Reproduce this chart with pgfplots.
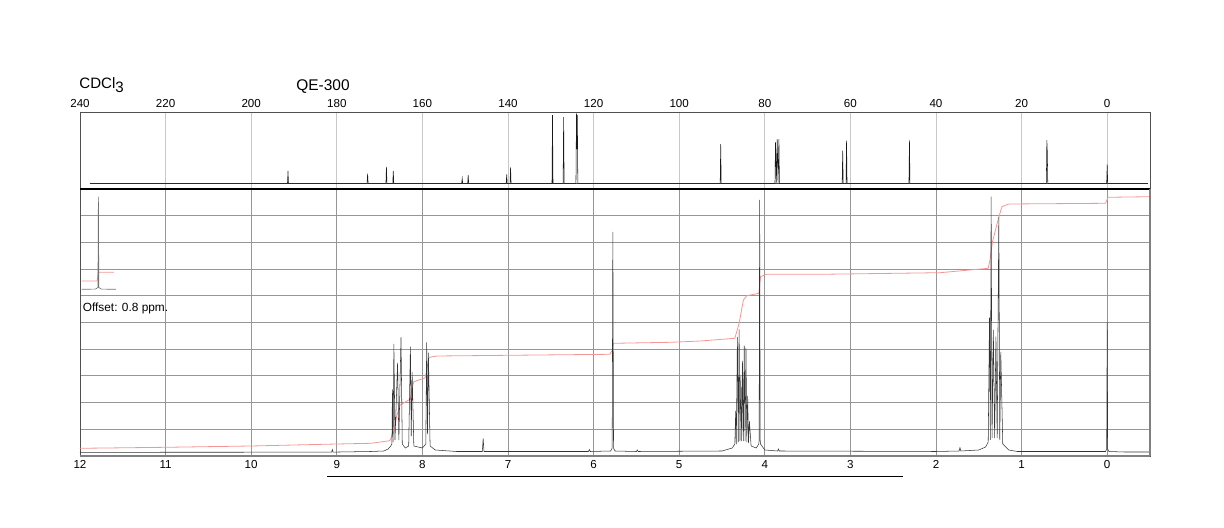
\documentclass[border=0pt]{standalone}
\usepackage{fontspec}
\setmainfont{Liberation Sans}
\usepackage{pgfplots}
\pgfplotsset{compat=1.18}
\definecolor{integ}{RGB}{245,150,150}
\definecolor{gridb}{RGB}{150,150,150}
\definecolor{gridt}{RGB}{200,200,200}
\definecolor{frame}{RGB}{80,80,80}
\begin{document}
\begin{tikzpicture}[x=1pt,y=1pt]
\path[use as bounding box] (0,0) rectangle (918,396);
% ---------- 13C panel ----------
\begin{axis}[at={(60pt,254.25pt)}, anchor=south west, scale only axis,
  width=802.5pt, height=57.2pt,
  xmin=-10, xmax=240, ymin=0, ymax=76.3, x dir=reverse,
  xtick={0,20,...,240}, ytick=\empty,
  xticklabel pos=right, major tick length=0pt,
  xmajorgrids, major grid style={gridt, line width=0.6pt},
  axis line style={frame, line width=0.7pt},
  tick label style={font=\fontsize{8.7}{10}\selectfont},
  /pgf/number format/assume math mode=true,
  /pgf/number format/1000 sep={},
  clip=false]
\addplot[black!70, line width=0.9pt] coordinates {(237.7,5.7) (-9.5,5.7)};
\addplot[black!90, line width=0.4pt] coordinates {
(237.7,5.7)
(191.52,5.7)(191.4,18)(191.28,5.7)
(172.92,5.7)(172.8,15.3)(172.68,5.7)
(168.52,5.7)(168.4,22)(168.28,5.7)
(166.92,5.7)(166.8,18)(166.68,5.7)
(150.82,5.7)(150.7,10.7)(150.58,5.7)
(149.42,5.7)(149.3,14)(149.18,5.7)
(140.42,5.7)(140.3,14.7)(140.18,5.7)
(139.52,5.7)(139.4,21.7)(139.28,5.7)
(129.72,5.7)(129.6,74)(129.48,5.7)
(127.12,5.7)(127.0,72)(126.88,5.7)
(124.12,5.7)(124.0,75.7)(123.9,40)(123.8,74)(123.68,5.7)
(90.42,5.7)(90.3,45)(90.18,5.7)
(77.62,5.7)(77.5,46.7)(77.3,6.5)(77.1,50)(76.9,6.5)(76.7,50)(76.58,5.7)
(61.92,5.7)(61.8,38.3)(61.68,5.7)
(61.02,5.7)(60.9,48.3)(60.78,5.7)
(46.32,5.7)(46.2,48.7)(46.08,5.7)
(14.22,5.7)(14.1,49)(14.0,38)(13.88,5.7)
(0.12,5.7)(0,24.7)(-0.12,5.7)
(-9.5,5.7)};
\node[anchor=west, inner sep=0pt, font=\fontsize{11.3}{13}\selectfont] at (axis cs:240.2,104) {CDCl\raisebox{-0.45ex}{3}};
\node[anchor=west, inner sep=0pt, font=\fontsize{11.6}{13}\selectfont] at (axis cs:189.5,102.3) {QE-300};
\end{axis}
% ---------- 1H panel ----------
\begin{axis}[at={(60pt,54pt)}, anchor=south west, scale only axis,
  width=802.5pt, height=200.25pt,
  xmin=-0.5, xmax=12, ymin=0, ymax=267, x dir=reverse,
  xtick={0,...,12},
  ytick={26.7,53.4,80.1,106.8,133.5,160.2,186.9,213.6,240.3},
  yticklabels={}, major tick length=0pt,
  grid=major, major grid style={gridb, line width=0.6pt},
  axis line style={frame, line width=0.7pt},
  xticklabel style={font=\fontsize{8.7}{10}\selectfont},
  /pgf/number format/assume math mode=true,
  clip=false]
% integral
\addplot[integ, line width=0.6pt] coordinates {
(12,7.7) (11,8.7) (10,10) (9,12) (8.6,12.7) (8.38,15.3) (8.33,25) (8.30,40)
(8.26,51) (8.20,54) (8.14,57) (8.12,68) (8.10,74.3) (7.97,78) (7.95,85)
(7.93,97.7) (7.90,99) (7.83,100) (5.81,101.7) (5.78,106) (5.77,112.7)
(5.1,113.7) (4.75,115) (4.35,117.7) (4.30,132.7) (4.25,156) (4.21,160.3)
(4.07,162.7) (4.05,179.3) (3.98,181.7) (3.35,181.7) (1.95,183.3) (1.39,187.7)
(1.37,196) (1.34,214.3) (1.27,237.7) (1.23,249.3) (1.15,252) (0.02,252.7)
(-0.01,258.7) (-0.5,259.3)};
% spectrum
\addplot[black!80, line width=0.4pt] coordinates {
(12,3.7) (9.06,3.8) (9.052,6.5) (9.044,3.9) (8.6,4.5) (8.45,5) (8.40,7) (8.37,10)
(8.356,12) (8.350,66.7) (8.342,14) (8.333,112) (8.320,16) (8.290,93) (8.275,16)
(8.250,118.7) (8.235,12) (8.20,8) (8.16,10) (8.140,109.3) (8.130,20) (8.120,84)
(8.10,10) (8.00,8) (7.96,12) (7.950,113.7) (7.940,22) (7.930,103.3) (7.91,10)
(7.85,6) (7.6,4.5) (7.30,4.5) (7.29,17.7) (7.28,4.5) (6.06,4.5) (6.05,6.5)
(6.04,4.5) (5.80,5) (5.783,8) (5.775,224) (5.767,8) (5.75,5) (5.50,4.5) (5.49,6) (5.48,4.5)
(4.50,5) (4.38,8) (4.35,12)
(4.340,45) (4.333,12) (4.320,119) (4.310,14) (4.300,126.7) (4.290,15)
(4.280,80) (4.27,15) (4.260,95) (4.25,15) (4.240,110) (4.23,15) (4.220,108)
(4.21,14) (4.200,60) (4.19,13) (4.180,35) (4.16,10) (4.10,8) (4.07,12)
(4.066,16) (4.060,256) (4.054,16) (4.05,12) (4.00,6) (3.85,5) (3.84,7) (3.83,5) (2.0,4.5)
(1.73,5) (1.72,8.3) (1.71,5) (1.5,6) (1.42,9) (1.39,14)
(1.375,138.3) (1.365,16) (1.356,259.3) (1.345,18) (1.33,126) (1.315,18)
(1.30,119.3) (1.285,18) (1.266,239) (1.255,16) (1.243,104) (1.22,12)
(1.15,6) (1.05,4.5) (0.02,4.5) (0.006,7) (0.0,134) (-0.006,7) (-0.02,4.5) (-0.2,4) (-0.5,4)};
% inset (offset 0.8 ppm)
\addplot[integ, line width=0.6pt] coordinates {(11.98,175) (11.80,175) (11.785,183.7) (11.60,183.7)};
\addplot[black!55, line width=0.5pt] coordinates {
(11.98,166.7) (11.82,166.9) (11.79,168.5) (11.785,259.3) (11.78,168.5)
(11.75,166.9) (11.58,166.7)};
\node[anchor=west, inner sep=0pt, font=\fontsize{8.9}{10}\selectfont] at (axis cs:11.97,148) {Offset: 0.8 ppm.};
% frame accents
\draw[black, line width=1.5pt] (rel axis cs:0,1) -- (rel axis cs:1,1);
\draw[gray, line width=1.8pt] (rel axis cs:0,0) -- (rel axis cs:1,0);
\draw[gray, line width=1.4pt] (rel axis cs:1,0) -- (rel axis cs:1,1);
\draw[black, line width=0.9pt] (axis cs:9.11,-20.7) -- (axis cs:2.39,-20.7);
\end{axis}
\end{tikzpicture}
\end{document}
